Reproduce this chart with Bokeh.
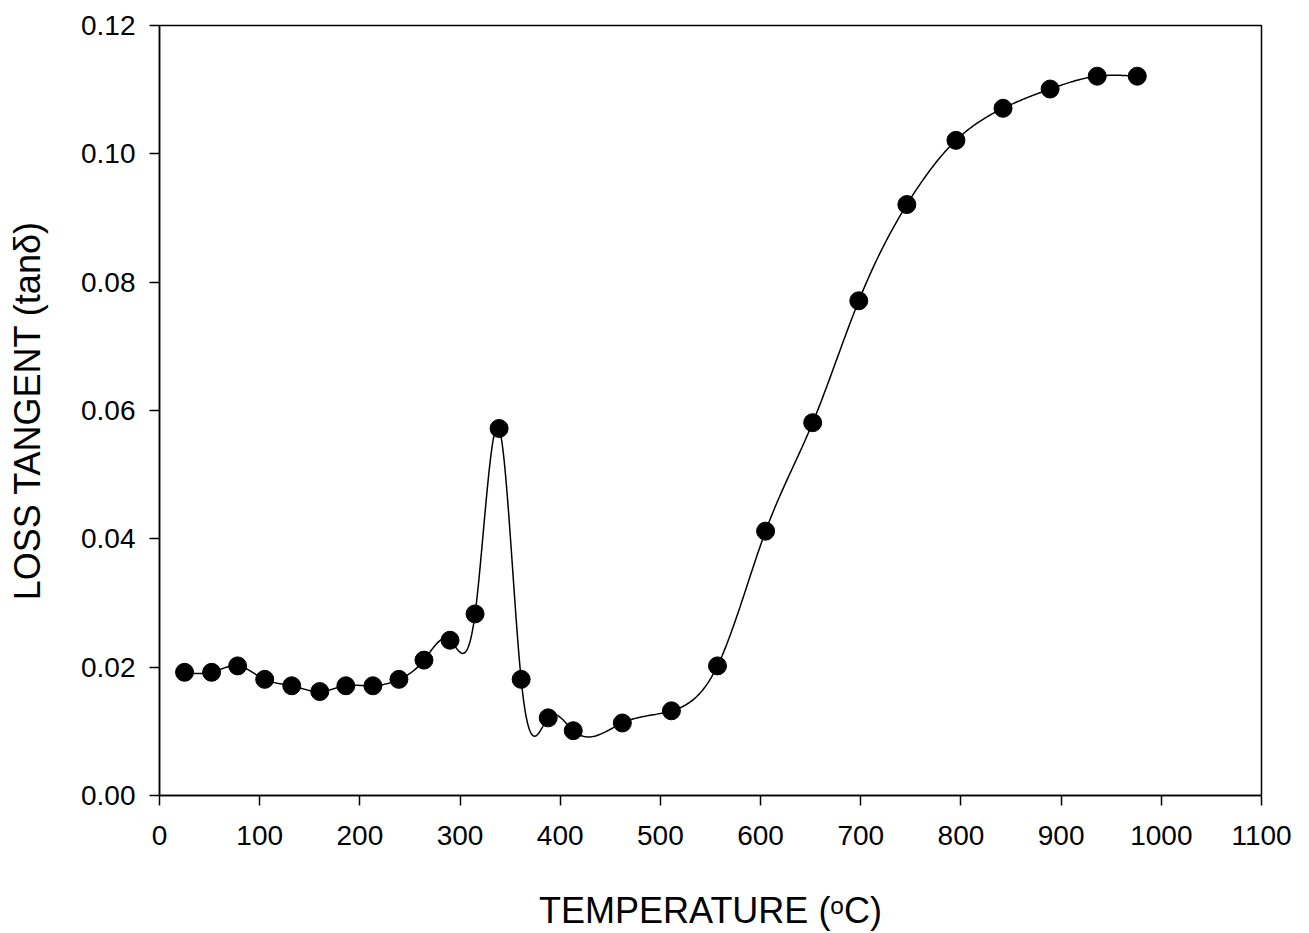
import numpy as np
from bokeh.plotting import figure
from bokeh.models import Range1d, FixedTicker, NumeralTickFormatter
from bokeh.embed import file_html
from bokeh.resources import INLINE

# Data
temperature = [25, 52, 78, 105, 132, 160, 186, 213, 239, 264, 290, 315, 339, 361,
               388, 413, 462, 511, 557, 605, 652, 698, 746, 795, 842, 889, 936, 976]
loss_tangent = [0.0192, 0.0192, 0.0202, 0.0181, 0.0171, 0.0162, 0.0171, 0.0171, 0.0181,
                0.0211, 0.0242, 0.0283, 0.0572, 0.0181, 0.0121, 0.0101, 0.0113, 0.0132,
                0.0202, 0.0412, 0.0581, 0.0771, 0.0921, 0.1021, 0.1071, 0.1101, 0.1121, 0.1121]
x_ticks = [0, 100, 200, 300, 400, 500, 600, 700, 800, 900, 1000, 1100]
y_ticks = [0.00, 0.02, 0.04, 0.06, 0.08, 0.10, 0.12]


def natural_spline(x, y, n_per=30):
    x = np.asarray(x, float)
    y = np.asarray(y, float)
    n = len(x)
    h = np.diff(x)
    A = np.zeros((n, n))
    b = np.zeros(n)
    A[0, 0] = 1
    A[-1, -1] = 1
    for i in range(1, n - 1):
        A[i, i - 1] = h[i - 1]
        A[i, i] = 2 * (h[i - 1] + h[i])
        A[i, i + 1] = h[i]
        b[i] = 3 * ((y[i + 1] - y[i]) / h[i] - (y[i] - y[i - 1]) / h[i - 1])
    c = np.linalg.solve(A, b)
    xs, ys = [], []
    for i in range(n - 1):
        bi = (y[i + 1] - y[i]) / h[i] - h[i] * (2 * c[i] + c[i + 1]) / 3
        di = (c[i + 1] - c[i]) / (3 * h[i])
        t = np.linspace(0, h[i], n_per, endpoint=(i == n - 2))
        xs.extend(x[i] + t)
        ys.extend(y[i] + bi * t + c[i] * t ** 2 + di * t ** 3)
    return xs, ys


sx, sy = natural_spline(temperature, loss_tangent)

FONT = "Liberation Sans"

p = figure(width=1309, height=933, output_backend="svg", toolbar_location=None,
           x_range=Range1d(0, 1100), y_range=Range1d(0, 0.12),
           min_border_left=159, min_border_right=48, min_border_top=25, min_border_bottom=138)

p.line(sx, sy, line_color="black", line_width=1.5)
p.scatter(temperature, loss_tangent, size=18, fill_color="black", line_color="black")

p.xgrid.visible = False
p.ygrid.visible = False
p.outline_line_color = "black"
p.outline_line_width = 1.5
p.background_fill_color = "white"
p.border_fill_color = "white"

for ax in (p.xaxis[0], p.yaxis[0]):
    ax.axis_line_color = "black"
    ax.axis_line_width = 1.5
    ax.major_tick_line_color = "black"
    ax.major_tick_line_width = 1.5
    ax.major_tick_out = 10
    ax.major_tick_in = 0
    ax.minor_tick_line_color = None
    ax.major_label_text_font = FONT
    ax.major_label_text_font_size = "28px"
    ax.major_label_text_color = "black"
    ax.axis_label_text_font = FONT
    ax.axis_label_text_font_size = "36px"
    ax.axis_label_text_font_style = "normal"
    ax.axis_label_text_color = "black"

p.xaxis[0].ticker = FixedTicker(ticks=x_ticks)
p.yaxis[0].ticker = FixedTicker(ticks=y_ticks)
p.yaxis[0].formatter = NumeralTickFormatter(format="0.00")
p.xaxis[0].major_label_standoff = 20
p.yaxis[0].major_label_standoff = 14
p.xaxis[0].axis_label = "TEMPERATURE (ᵒC)"
p.yaxis[0].axis_label = "LOSS TANGENT (tanδ)"
p.xaxis[0].axis_label_standoff = 42
p.yaxis[0].axis_label_standoff = 30

open("out.html", "w").write(file_html(p, INLINE))
